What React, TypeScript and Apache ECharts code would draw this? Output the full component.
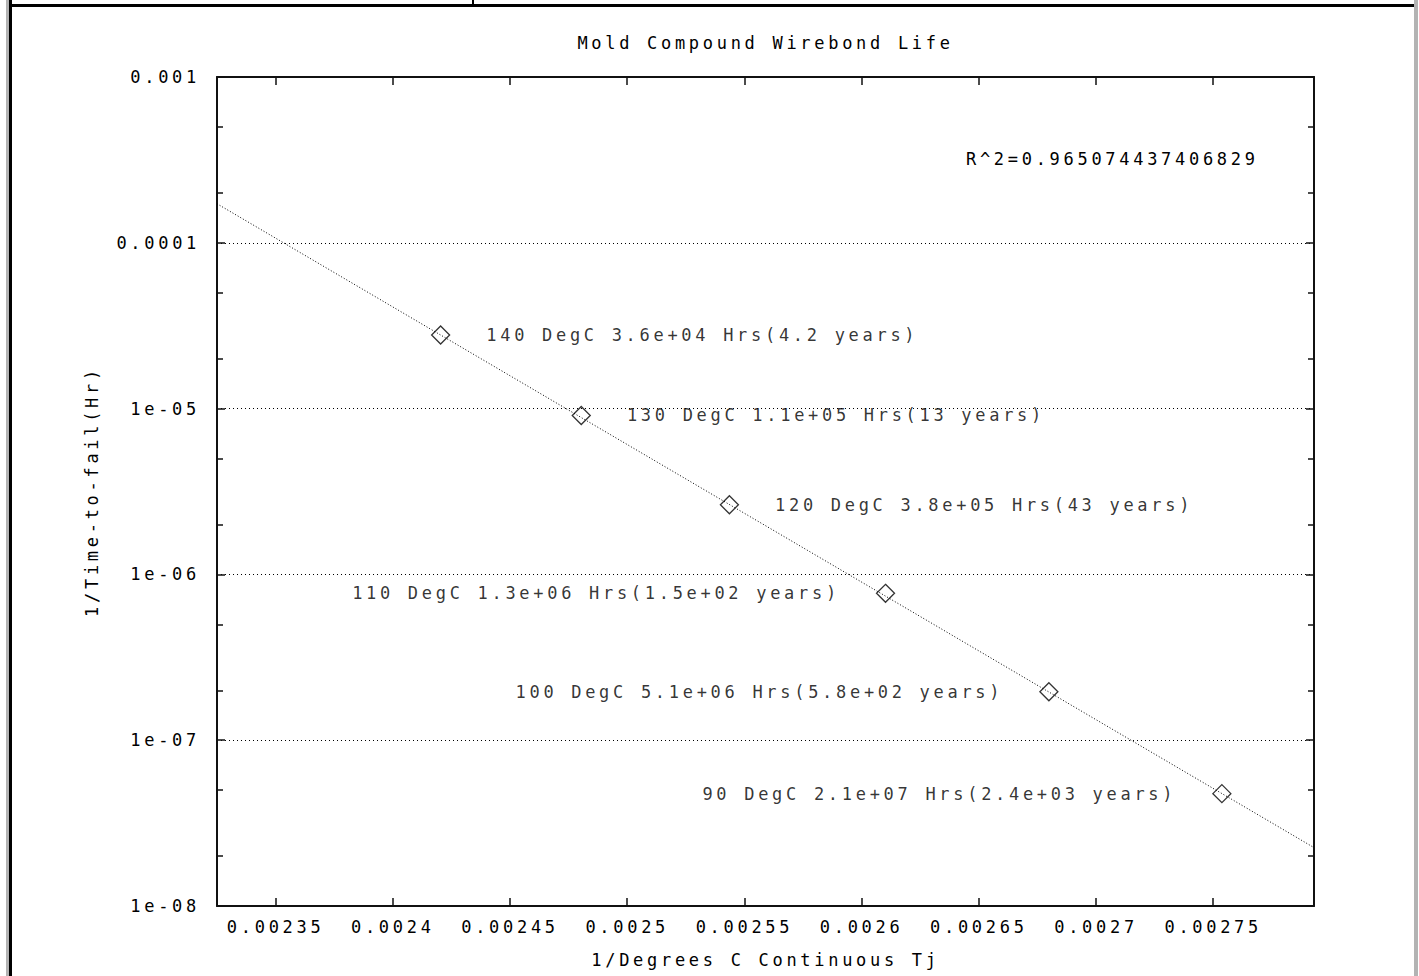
import React, { useEffect, useRef } from "react";
import * as echarts from "echarts";

// ---- data ----
const xTickValues = [0.00235, 0.0024, 0.00245, 0.0025, 0.00255, 0.0026, 0.00265, 0.0027, 0.00275];
const xTickLabels = ["0.00235", "0.0024", "0.00245", "0.0025", "0.00255", "0.0026", "0.00265", "0.0027", "0.00275"];
const yDecadeExponents = [-8, -7, -6, -5, -4, -3];
const yDecadeLabels = ["1e-08", "1e-07", "1e-06", "1e-05", "0.0001", "0.001"];
const yMinorValues = [2e-8, 5e-8, 2e-7, 5e-7, 2e-6, 5e-6, 2e-5, 5e-5, 2e-4, 5e-4];

const invTemp = [0.0024204, 0.0024804, 0.0025436, 0.0026102, 0.0026799, 0.0027537];
const failRate = [2.78e-5, 9.09e-6, 2.63e-6, 7.69e-7, 1.96e-7, 4.76e-8];
const pointLabels = [
  "140 DegC 3.6e+04 Hrs(4.2 years)",
  "130 DegC 1.1e+05 Hrs(13 years)",
  "120 DegC 3.8e+05 Hrs(43 years)",
  "110 DegC 1.3e+06 Hrs(1.5e+02 years)",
  "100 DegC 5.1e+06 Hrs(5.8e+02 years)",
  "90 DegC 2.1e+07 Hrs(2.4e+03 years)",
];
const labelSides = ["right", "right", "right", "left", "left", "left"];

const fitX = [0.002325, 0.002793];
const fitY = [1.72e-4, 2.25e-8];

const xMin = 0.002325;
const xMax = 0.002793;
const yMin = 1e-8;
const yMax = 1e-3;

const titleText = "Mold Compound Wirebond Life";
const xName = "1/Degrees C Continuous Tj";
const yName = "1/Time-to-fail(Hr)";
const r2Text = "R^2=0.965074437406829";

const FONT = "'DejaVu Sans Mono', monospace";
const FS = 17;

function xLabel(v: number) {
  let best = 0;
  for (let i = 0; i < xTickValues.length; i++) {
    if (Math.abs(xTickValues[i] - v) < Math.abs(xTickValues[best] - v)) best = i;
  }
  return xTickLabels[best];
}
function yLabel(v: number) {
  const e = Math.round(Math.log10(v));
  const i = yDecadeExponents.indexOf(e);
  return i >= 0 ? yDecadeLabels[i] : "";
}

const axisLine = { show: true, lineStyle: { color: "#111", width: 2 } };

function buildOption(): any {
  return {
    animation: false,
    backgroundColor: "#fff",
    textStyle: { fontFamily: FONT, fontSize: FS, color: "#000" },
    grid: { left: 217, right: 105, top: 77, bottom: 70, containLabel: false },
    xAxis: [
      {
        type: "value",
        position: "bottom",
        min: xMin,
        max: xMax,
        name: xName,
        nameLocation: "middle",
        nameGap: 45,
        nameTextStyle: { fontFamily: FONT, fontSize: FS, color: "#000" },
        axisLine,
        axisTick: { show: true, inside: true, length: 8, customValues: xTickValues, lineStyle: { color: "#111", width: 1.5 } },
        axisLabel: { show: true, margin: 12, customValues: xTickValues, formatter: (v: number) => xLabel(v), fontFamily: FONT, fontSize: FS, color: "#000" },
        splitLine: { show: false },
      },
      {
        type: "value",
        position: "top",
        min: xMin,
        max: xMax,
        axisLine,
        axisTick: { show: true, inside: true, length: 8, customValues: xTickValues, lineStyle: { color: "#111", width: 1.5 } },
        axisLabel: { show: false },
        splitLine: { show: false },
      },
    ],
    yAxis: [
      {
        type: "log",
        logBase: 10,
        position: "left",
        min: yMin,
        max: yMax,
        name: yName,
        nameLocation: "middle",
        nameGap: 117,
        nameRotate: 90,
        nameTextStyle: { fontFamily: FONT, fontSize: FS, color: "#000" },
        axisLine,
        axisTick: { show: true, inside: true, length: 8, lineStyle: { color: "#111", width: 1.5 } },
        axisLabel: { show: true, margin: 17, formatter: (v: number) => yLabel(v), fontFamily: FONT, fontSize: FS, color: "#000" },
        splitLine: { show: true, lineStyle: { color: "#000", width: 1, type: [1, 3] } },
      },
      {
        type: "log",
        logBase: 10,
        position: "left",
        min: yMin,
        max: yMax,
        axisLine: { show: false },
        axisTick: { show: true, inside: true, length: 6, customValues: yMinorValues, lineStyle: { color: "#111", width: 1.5 } },
        axisLabel: { show: false },
        splitLine: { show: false },
      },
      {
        type: "log",
        logBase: 10,
        position: "right",
        min: yMin,
        max: yMax,
        axisLine,
        axisTick: { show: true, inside: true, length: 8, lineStyle: { color: "#111", width: 1.5 } },
        axisLabel: { show: false },
        splitLine: { show: false },
      },
      {
        type: "log",
        logBase: 10,
        position: "right",
        min: yMin,
        max: yMax,
        axisLine: { show: false },
        axisTick: { show: true, inside: true, length: 6, customValues: yMinorValues, lineStyle: { color: "#111", width: 1.5 } },
        axisLabel: { show: false },
        splitLine: { show: false },
      },
    ],
    graphic: [
      { type: "rect", silent: true, shape: { x: 6, y: 0, width: 3, height: 976 }, style: { fill: "#b3b3b3" } },
      { type: "rect", silent: true, shape: { x: 9, y: 0, width: 3, height: 976 }, style: { fill: "#000" } },
      { type: "rect", silent: true, shape: { x: 12, y: 4, width: 1402, height: 3 }, style: { fill: "#000" } },
      { type: "rect", silent: true, shape: { x: 472, y: 0, width: 2, height: 4 }, style: { fill: "#000" } },
      { type: "rect", silent: true, shape: { x: 1414, y: 0, width: 4, height: 976 }, style: { fill: "#b3b3b3" } },
      {
        type: "text",
        silent: true,
        x: 765.5,
        y: 43,
        style: { text: titleText, fontFamily: FONT, fontSize: FS, fill: "#000", align: "center", verticalAlign: "middle" },
      },
      {
        type: "text",
        silent: true,
        x: 966,
        y: 159,
        style: { text: r2Text, fontFamily: FONT, fontSize: FS, fill: "#000", align: "left", verticalAlign: "middle" },
      },
    ],
    series: [
      {
        type: "line",
        xAxisIndex: 0,
        yAxisIndex: 0,
        data: fitX.map((x, i) => [x, fitY[i]]),
        showSymbol: false,
        symbol: "none",
        silent: true,
        lineStyle: { color: "#000", width: 1, type: [1, 2] },
        z: 2,
      },
      {
        type: "scatter",
        xAxisIndex: 0,
        yAxisIndex: 0,
        symbol: "diamond",
        symbolSize: 18,
        silent: true,
        itemStyle: { color: "rgba(0,0,0,0)", borderColor: "#000", borderWidth: 1.3 },
        data: invTemp.map((x, i) => ({
          value: [x, failRate[i]],
          label: { position: labelSides[i], distance: 36 },
        })),
        label: {
          show: true,
          fontFamily: FONT,
          fontSize: FS,
          color: "#000",
          formatter: (p: any) => pointLabels[p.dataIndex],
        },
        z: 3,
      },
    ],
  };
}

export default function App() {
  const ref = useRef<HTMLDivElement>(null);
  useEffect(() => {
    if (!ref.current) return;
    const chart = echarts.init(ref.current, null, { renderer: "svg" });
    chart.setOption(buildOption());
    return () => chart.dispose();
  }, []);
  return (
    <div
      ref={ref}
      style={{
        position: "absolute",
        left: 0,
        top: 0,
        width: 1419,
        height: 976,
        background: "#fff",
        letterSpacing: "3.7px",
      }}
    />
  );
}
